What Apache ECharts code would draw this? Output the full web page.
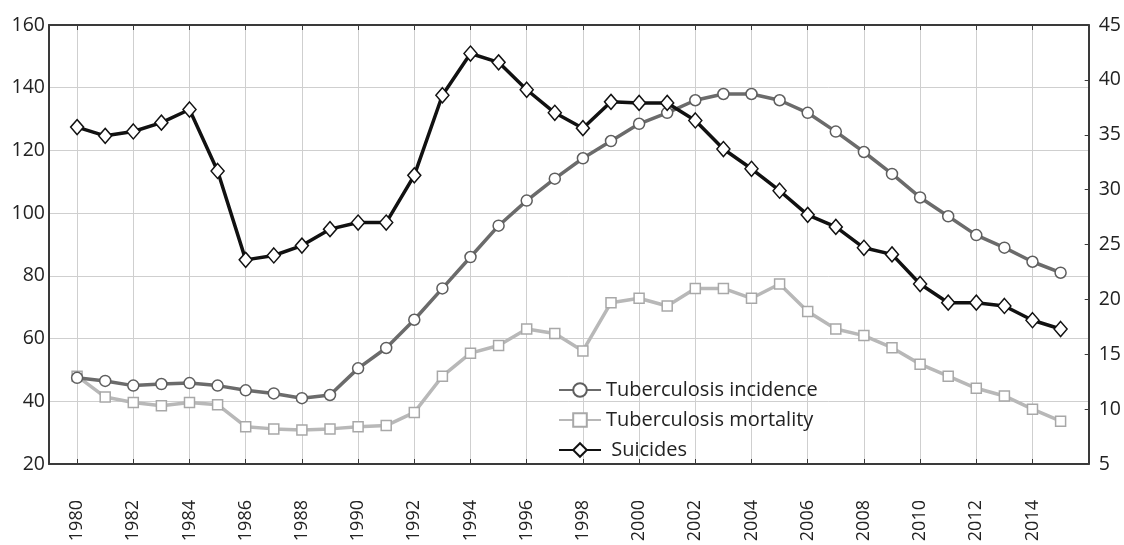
<!DOCTYPE html>
<html>
<head>
<meta charset="utf-8">
<style>
  html, body { margin: 0; padding: 0; background: #fff; }
  #chart { width: 1124px; height: 545px; }
</style>
<script src="https://cdn.jsdelivr.net/npm/echarts@6/dist/echarts.min.js"></script>
</head>
<body>
<div id="chart"></div>
<script>
// data
var years = [1980, 1981, 1982, 1983, 1984, 1985, 1986, 1987, 1988, 1989,
    1990, 1991, 1992, 1993, 1994, 1995, 1996, 1997, 1998, 1999,
    2000, 2001, 2002, 2003, 2004, 2005, 2006, 2007, 2008, 2009,
    2010, 2011, 2012, 2013, 2014, 2015];

// left axis
var incidence = [47.5, 46.5, 45, 45.5, 45.8, 45, 43.5, 42.5, 41, 42,
    50.5, 57, 66, 76, 86, 96, 104, 111, 117.5, 123,
    128.5, 132, 136, 138, 138, 136, 132, 126, 119.5, 112.5,
    105, 99, 93, 89, 84.5, 81];

// right axis
var mortality = [13.0, 11.1, 10.6, 10.3, 10.6, 10.4, 8.4, 8.2, 8.1, 8.2,
    8.4, 8.5, 9.7, 13.0, 15.1, 15.8, 17.3, 16.9, 15.3, 19.7,
    20.1, 19.4, 21.0, 21.0, 20.1, 21.4, 18.9, 17.3, 16.7, 15.6,
    14.1, 13.0, 11.9, 11.2, 10.0, 8.9];

var suicides = [35.7, 34.9, 35.3, 36.1, 37.3, 31.7, 23.6, 24.0, 24.9, 26.4,
    27.0, 27.0, 31.3, 38.6, 42.4, 41.6, 39.1, 37.0, 35.6, 38.0,
    37.9, 37.9, 36.3, 33.7, 31.9, 29.9, 27.7, 26.6, 24.7, 24.1,
    21.4, 19.7, 19.7, 19.4, 18.1, 17.3];

var seriesNames = ['Tuberculosis incidence', 'Tuberculosis mortality', ' Suicides'];

(function() {
    var ink = '#222';
    var axisCol = '#3a3a3a';
    var gridCol = '#cfcfcf';
    var font = '"Open Sans", "Noto Sans", sans-serif';

    // pad one empty year on each side so the plot runs 1979..2016
    var cats = [String(years[0] - 1)].concat(years.map(String), [String(years[years.length - 1] + 1)]);
    function pairs(vals) {
        return years.map(function(y, i) { return [String(y), vals[i]]; });
    }
    function shown(idx, val) {
        var y = +val;
        return y % 2 === 0 && y >= 1980 && y <= 2014;
    }

    var chart = echarts.init(document.getElementById('chart'), null, { renderer: 'canvas' });

    var option = {
        backgroundColor: '#fff',
        animation: false,
        textStyle: { fontFamily: font },
        grid: { left: 49, right: 35, top: 25, bottom: 81 },
        legend: {
            orient: 'vertical',
            left: 553,
            top: 375,
            itemWidth: 42,
            itemHeight: 17,
            itemGap: 10,
            data: seriesNames,
            textStyle: { fontSize: 20, color: ink, fontFamily: font }
        },
        xAxis: [{
            type: 'category',
            data: cats,
            boundaryGap: false,
            position: 'bottom',
            axisLine: { lineStyle: { color: axisCol, width: 2 } },
            axisTick: { inside: true, length: 5, interval: shown, lineStyle: { color: axisCol } },
            axisLabel: {
                interval: shown,
                rotate: 90,
                margin: 36,
                fontSize: 18,
                color: ink
            },
            splitLine: { show: true, interval: shown, lineStyle: { color: gridCol, width: 1 } }
        }, {
            type: 'category',
            data: cats,
            boundaryGap: false,
            position: 'top',
            axisLine: { lineStyle: { color: axisCol, width: 2 } },
            axisTick: { inside: true, length: 5, interval: shown, lineStyle: { color: axisCol } },
            axisLabel: { show: false },
            splitLine: { show: false }
        }],
        yAxis: [{
            type: 'value',
            min: 20,
            max: 160,
            interval: 20,
            position: 'left',
            axisLine: { show: true, lineStyle: { color: axisCol, width: 2 } },
            axisTick: { show: false },
            axisLabel: { fontSize: 19.5, color: ink, margin: 4 },
            splitLine: { lineStyle: { color: gridCol, width: 1 } }
        }, {
            type: 'value',
            min: 5,
            max: 45,
            interval: 5,
            position: 'right',
            axisLine: { show: true, lineStyle: { color: axisCol, width: 2 } },
            axisTick: { show: true, inside: true, length: 4, lineStyle: { color: axisCol } },
            axisLabel: { fontSize: 19.5, color: ink, margin: 10 },
            splitLine: { show: false }
        }],
        series: [{
            name: seriesNames[0],
            type: 'line',
            yAxisIndex: 0,
            data: pairs(incidence),
            symbol: 'circle',
            symbolSize: 11,
            lineStyle: { color: '#6b6b6b', width: 3.5 },
            itemStyle: { color: '#fff', borderColor: '#5e5e5e', borderWidth: 1.5 },
            z: 3
        }, {
            name: seriesNames[1],
            type: 'line',
            yAxisIndex: 1,
            data: pairs(mortality),
            symbol: 'rect',
            symbolSize: 10,
            lineStyle: { color: '#b8b8b8', width: 3.5 },
            itemStyle: { color: '#fff', borderColor: '#a8a8a8', borderWidth: 1.5 },
            z: 2
        }, {
            name: seriesNames[2],
            type: 'line',
            yAxisIndex: 1,
            data: pairs(suicides),
            symbol: 'diamond',
            symbolSize: [13, 15],
            lineStyle: { color: '#111', width: 3.5 },
            itemStyle: { color: '#fff', borderColor: '#111', borderWidth: 1.5 },
            z: 4
        }]
    };

    chart.setOption(option);
    window.addEventListener('resize', function() {
        chart.resize();
    });
})();
</script>
</body>
</html>
